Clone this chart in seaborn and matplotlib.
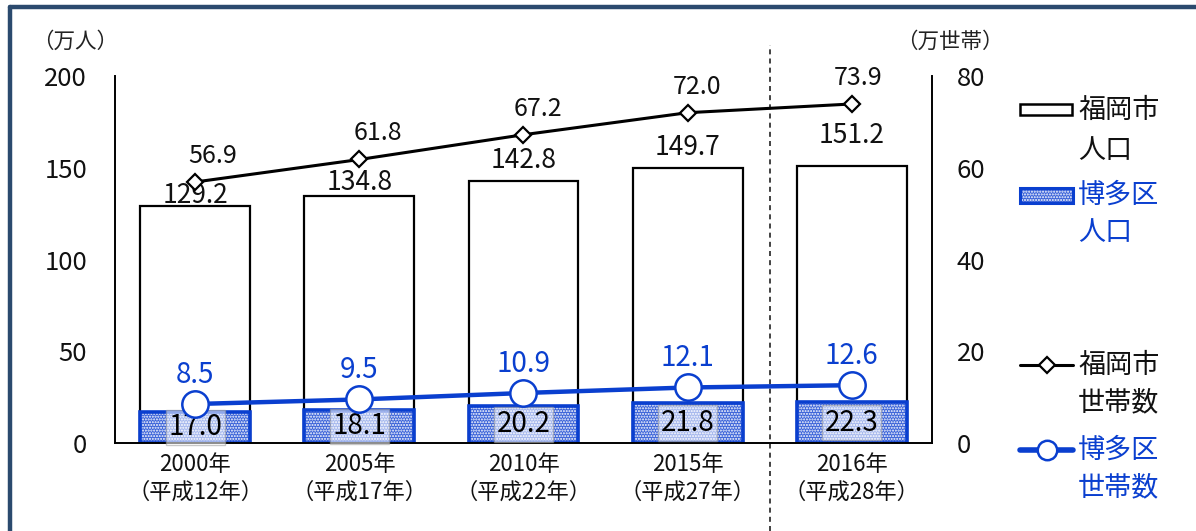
import numpy as np
import pandas as pd
import matplotlib
matplotlib.use("Agg")
import matplotlib.pyplot as plt
import seaborn as sns
from matplotlib.patches import Rectangle
from matplotlib.lines import Line2D

# ---------------- data ----------------
years = ["2000年\n（平成12年）", "2005年\n（平成17年）", "2010年\n（平成22年）",
         "2015年\n（平成27年）", "2016年\n（平成28年）"]
fukuoka_pop = [129.2, 134.8, 142.8, 149.7, 151.2]      # 万人
hakata_pop = [17.0, 18.1, 20.2, 21.8, 22.3]            # 万人
fukuoka_hh = [56.9, 61.8, 67.2, 72.0, 73.9]            # 万世帯
hakata_hh = [8.5, 9.5, 10.9, 12.1, 12.6]               # 万世帯
left_ticks = [0, 50, 100, 150, 200]
right_ticks = [0, 20, 40, 60, 80]

sns.set_theme(style="white")
plt.rcParams['font.family'] = ['Noto Sans CJK JP', 'DejaVu Sans']
plt.rcParams['hatch.linewidth'] = 1.0

W, H = 1196, 531
fig = plt.figure(figsize=(W / 100, H / 100), dpi=100)
ax = fig.add_axes([115 / W, 1 - 443 / H, (932 - 115) / W, (443 - 76) / H])

def px(x, y):
    return (x / W, 1 - y / H)

BLUE = "#0a3fcf"
df = pd.DataFrame({"year": years, "fukuoka": fukuoka_pop, "hakata": hakata_pop})
bw = 0.67
sns.barplot(data=df, x="year", y="fukuoka", ax=ax, color="white", width=bw,
            edgecolor="black", linewidth=1.6, saturation=1)
sns.barplot(data=df, x="year", y="hakata", ax=ax, color="#3a62d8", width=bw,
            edgecolor="white", linewidth=0, hatch="......", saturation=1)
sns.barplot(data=df, x="year", y="hakata", ax=ax, width=bw, fill=False,
            edgecolor=BLUE, linewidth=2.6)

ax.set_xlim(-0.49, 4.49)
ax.set_ylim(0, 200)
ax.set_yticks(left_ticks)
ax.tick_params(axis="y", length=0, labelsize=18.5, pad=20, labelcolor="#111111")
ax.set_xticks(np.arange(0.5, 4.0, 1.0))
ax.set_xticklabels([])
ax.tick_params(axis="x", which="major", direction="in", length=6, width=1.2, color="black")
ax.set_xticks(np.arange(len(years)), minor=True)
ax.set_xticklabels(years, minor=True, fontsize=16, linespacing=1.3, color="#111111")
ax.tick_params(axis="x", which="minor", length=0, pad=7)
ax.set_xlabel("")
ax.set_ylabel("")
for s in ["left", "right", "bottom"]:
    ax.spines[s].set_color("black")
    ax.spines[s].set_linewidth(1.4)
ax.spines["top"].set_visible(False)

# bar labels (Fukuoka population)
fk_off = [10, 13, 20, 21, 30]
for i, v in enumerate(fukuoka_pop):
    ax.annotate(f"{v:.1f}", (i, v), xytext=(0, fk_off[i] / 1.389), textcoords="offset points",
                ha="center", va="center", fontsize=19, color="#111111")
# Hakata pop labels
for i, v in enumerate(hakata_pop):
    ax.text(i, v / 2, f"{v:.1f}", ha="center", va="center", fontsize=20, color="black",
            bbox=dict(boxstyle="square,pad=0.1", facecolor="white", alpha=0.55,
                      edgecolor="#999999"))

# dashed separator
ax.axvline(3.5, ymin=-0.24, ymax=1.085, color="#222222", lw=1.2, ls=(0, (3, 2.5)), clip_on=False)

# secondary axis
ax2 = ax.twinx()
ax2.set_ylim(0, 80)
ax2.set_yticks(right_ticks)
ax2.tick_params(axis="y", length=0, labelsize=18.5, pad=18, labelcolor="#111111")
for s in ["left", "right", "bottom", "top"]:
    ax2.spines[s].set_visible(False)
xs = np.arange(len(years))
ax2.plot(xs, fukuoka_hh, color="black", lw=2.2, marker="D", markersize=8,
         markerfacecolor="white", markeredgecolor="black", markeredgewidth=1.6, zorder=5)
ax2.plot(xs, hakata_hh, color=BLUE, lw=3.2, marker="o", markersize=19,
         markerfacecolor="white", markeredgecolor=BLUE, markeredgewidth=1.8, zorder=6)
fh_dx = [17, 18, 14, 10, 6]
for i, v in enumerate(fukuoka_hh):
    ax2.annotate(f"{v:.1f}", (i, v), xytext=(fh_dx[i] / 1.389, 26 / 1.389), textcoords="offset points",
                 ha="center", va="center", fontsize=18, color="#111111")
for i, v in enumerate(hakata_hh):
    ax2.annotate(f"{v:.1f}", (i, v), xytext=(0, 29 / 1.389), textcoords="offset points",
                 ha="center", va="center", fontsize=20, color=BLUE)

# unit labels
fig.text(*px(75, 42), "（万人）", ha="center", va="center", fontsize=15.5, color="#222222")
fig.text(*px(950, 42), "（万世帯）", ha="center", va="center", fontsize=15.5, color="#222222")

# manual legend
fig.add_artist(Rectangle(px(1020, 115), 52 / W, 11 / H, transform=fig.transFigure,
                         facecolor="white", edgecolor="black", lw=1.8))
fig.add_artist(Rectangle(px(1020, 203), 53 / W, 15 / H, transform=fig.transFigure,
                         facecolor="#3a62d8", edgecolor="white", hatch="......", lw=0))
fig.add_artist(Rectangle(px(1020, 203), 53 / W, 15 / H, transform=fig.transFigure,
                         facecolor="none", edgecolor=BLUE, lw=2.2))
x0, y0 = px(1020, 365)
x1, _ = px(1073, 365)
fig.add_artist(Line2D([x0, x1], [y0, y0], transform=fig.transFigure, color="black", lw=2.2))
fig.add_artist(Line2D([(x0 + x1) / 2], [y0], transform=fig.transFigure, marker="D", markersize=8,
                      markerfacecolor="white", markeredgecolor="black", markeredgewidth=1.6))
x0, y0 = px(1020, 450)
fig.add_artist(Line2D([x0, x1], [y0, y0], transform=fig.transFigure, color=BLUE, lw=4))
fig.add_artist(Line2D([(x0 + x1) / 2], [y0], transform=fig.transFigure, marker="o", markersize=14,
                      markerfacecolor="white", markeredgecolor=BLUE, markeredgewidth=1.8))
leg_txt = [("福岡市", 110, "#111111"), ("人口", 150, "#111111"),
           ("博多区", 195, BLUE), ("人口", 233, BLUE),
           ("福岡市", 365, "#111111"), ("世帯数", 403, "#111111"),
           ("博多区", 450, BLUE), ("世帯数", 488, BLUE)]
for t, y, c in leg_txt:
    fig.text(*px(1078, y), t, ha="left", va="center", fontsize=19.5, color=c)

# frame border (top & left)
fig.add_artist(Line2D([10 / W, 10 / W], [-0.05, 1 - 7 / H], transform=fig.transFigure,
                      color="#2b4a6e", lw=3.2))
fig.add_artist(Line2D([10 / W, 1.05], [1 - 7 / H, 1 - 7 / H], transform=fig.transFigure,
                      color="#2b4a6e", lw=3.2))

fig.savefig("out.png", dpi=100)
